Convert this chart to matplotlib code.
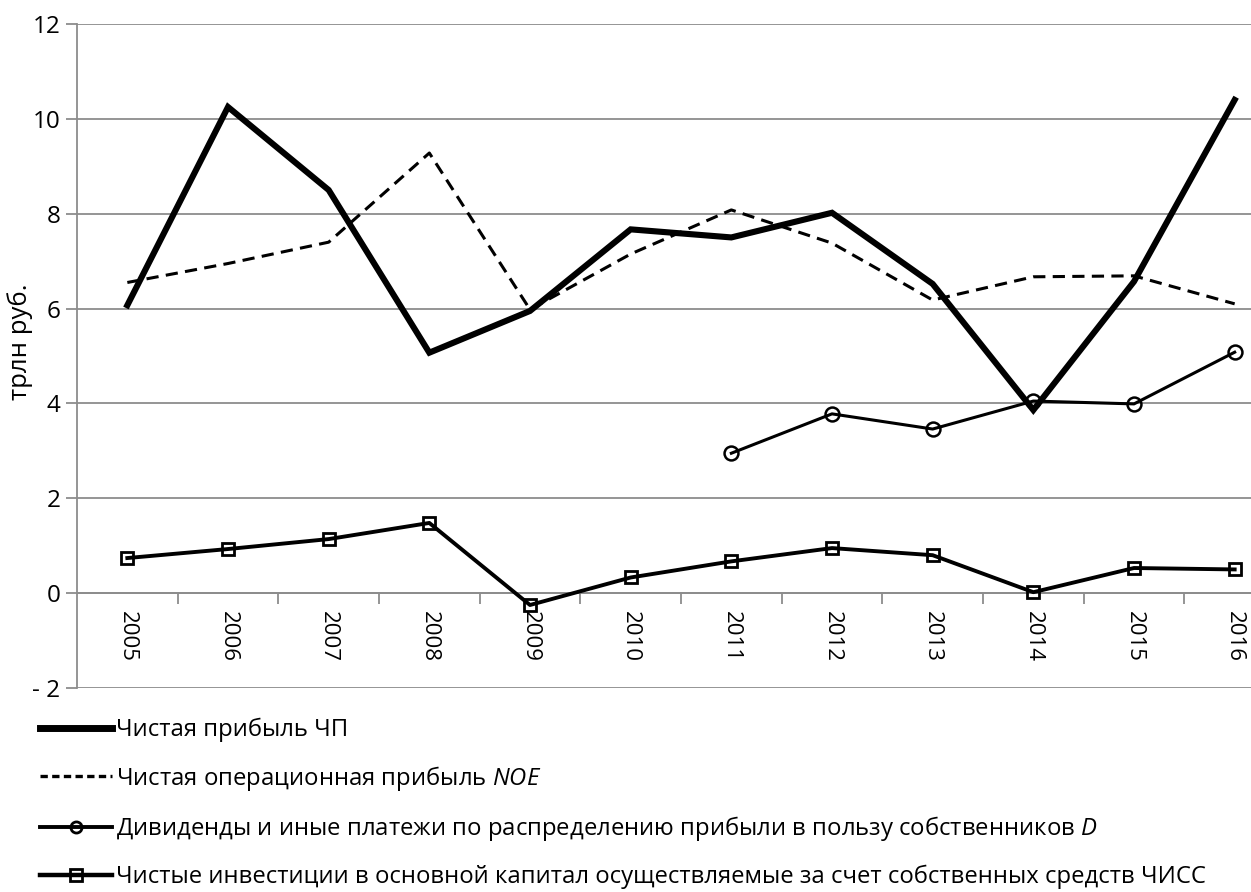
import matplotlib
matplotlib.use("Agg")
import matplotlib.pyplot as plt
from matplotlib.lines import Line2D

plt.rcParams['font.family'] = ['Open Sans', 'DejaVu Sans']
plt.rcParams['mathtext.fontset'] = 'custom'
plt.rcParams['mathtext.it'] = 'Open Sans:italic'
plt.rcParams['mathtext.rm'] = 'Open Sans'

# data (trillion rubles)
years = ['2005', '2006', '2007', '2008', '2009', '2010',
         '2011', '2012', '2013', '2014', '2015', '2016']
net_profit = [6.07, 10.25, 8.5, 5.07, 5.95, 7.67, 7.5, 8.02, 6.52, 3.86, 6.57, 10.4]
noe = [6.55, 6.95, 7.4, 9.28, 5.98, 7.15, 8.08, 7.38, 6.18, 6.67, 6.69, 6.1]
div_years = ['2011', '2012', '2013', '2014', '2015', '2016']
dividends = [2.95, 3.78, 3.46, 4.05, 3.99, 5.08]
net_inv = [0.74, 0.93, 1.14, 1.48, -0.25, 0.33, 0.67, 0.95, 0.8, 0.02, 0.53, 0.5]

labels = ['Чистая прибыль ЧП',
          'Чистая операционная прибыль $\\it{NOE}$',
          'Дивиденды и иные платежи по распределению прибыли в пользу собственников $\\it{D}$',
          'Чистые инвестиции в основной капитал осуществляемые за счет собственных средств ЧИСС']

fig = plt.figure(figsize=(12.51, 8.92), dpi=100)
ax = fig.add_axes([77 / 1251, 1 - 688 / 892, 1208 / 1251, 664 / 892])

x = list(range(len(years)))
xd = [years.index(y) for y in div_years]
grey = '#8c8c8c'

ax.plot(x, net_profit, color='black', lw=4.4, solid_joinstyle='miter', zorder=4)
ax.plot(x, noe, color='black', lw=2.2, dashes=(4, 2.4), zorder=3)
ax.plot(xd, dividends, color='black', lw=2.2, marker='o', ms=10, mfc='none',
        mec='black', mew=1.8, zorder=3)
ax.plot(x, net_inv, color='black', lw=2.8, marker='s', ms=9, mfc='none',
        mec='black', mew=2, zorder=3)

ax.set_xlim(-0.5, 11.5)
ax.set_ylim(-2, 12)
ax.set_yticks(range(-2, 13, 2))
ax.set_yticklabels(['- 2'] + [str(v) for v in range(0, 13, 2)])
ax.yaxis.grid(True, color=grey, lw=1.3)
ax.set_axisbelow(True)

ax.set_xticks(x)
ax.set_xticklabels(years)
ax.set_xticks([i + 0.5 for i in x[:-1]], minor=True)
ax.tick_params(axis='x', which='major', length=0, pad=13, labelsize=16, labelrotation=270)
ax.tick_params(axis='x', which='minor', length=8, width=1.3, color=grey, direction='out')
ax.tick_params(axis='y', length=8, width=1.3, color=grey, labelsize=17.5, pad=4)
for t in ax.get_xticklabels():
    t.set_va('top')
    t.set_ha('center')

for s in ['top', 'right']:
    ax.spines[s].set_visible(False)
ax.spines['bottom'].set_position(('data', 0))
ax.spines['bottom'].set_color(grey)
ax.spines['bottom'].set_linewidth(1.3)
ax.spines['left'].set_color(grey)
ax.spines['left'].set_linewidth(1.3)

fig.text(20 / 1251, 1 - 342 / 892, 'трлн руб.', rotation=90, fontsize=18.5,
         ha='center', va='center')

handles = [
    Line2D([], [], color='black', lw=5),
    Line2D([], [], color='black', lw=2.4, dashes=(2.2, 1.3)),
    Line2D([], [], color='black', lw=2.8, marker='o', ms=8, mfc='none', mew=2),
    Line2D([], [], color='black', lw=3.2, marker='s', ms=8, mfc='none', mew=2),
]
fig.legend(handles, labels, loc='upper left', bbox_to_anchor=(40 / 1251, 1 - 718 / 892),
           frameon=False, fontsize=17.2, handlelength=3.0, handletextpad=0.2,
           labelspacing=0.9, borderaxespad=0, borderpad=0)

fig.savefig('out.png', dpi=100)
